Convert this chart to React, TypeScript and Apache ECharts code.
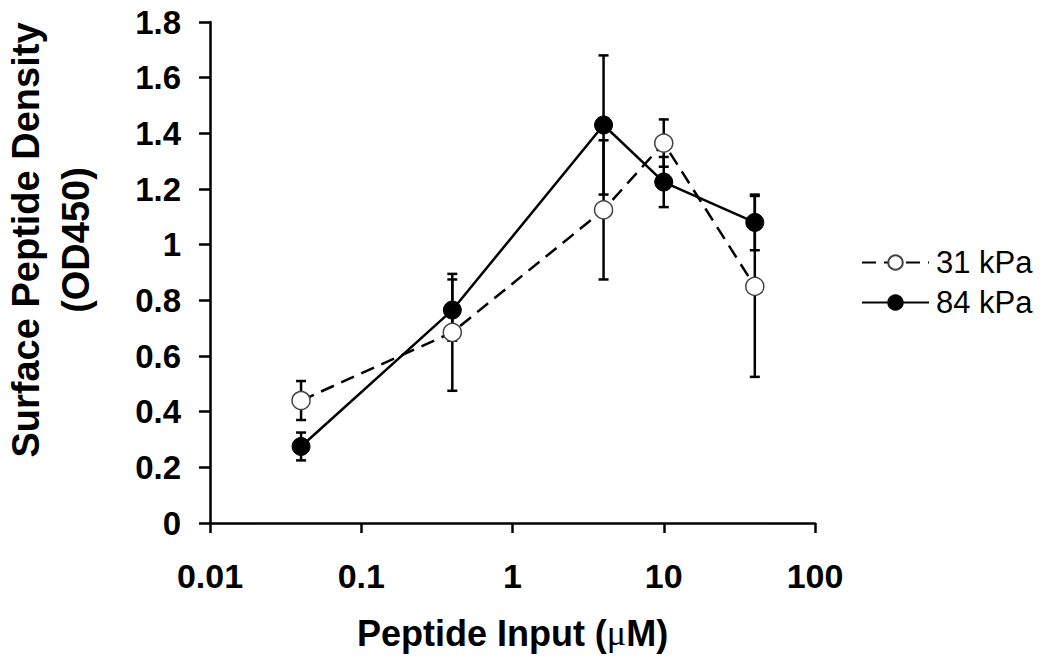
import React, { useEffect, useRef } from "react";
import * as echarts from "echarts";

const peptideInput = [0.04, 0.4, 4, 10, 40];
const density31 = [0.44, 0.685, 1.125, 1.365, 0.85];
const error31 = [0.07, 0.21, 0.25, 0.085, 0.325];
const density84 = [0.275, 0.765, 1.43, 1.225, 1.08];
const error84 = [0.05, 0.11, 0.25, 0.09, 0.1];
const seriesNames = ["31 kPa", "84 kPa"];

const FONT = "'Liberation Sans', Arial, Helvetica, sans-serif";

export default function App() {
  const ref = useRef<HTMLDivElement>(null);

  useEffect(() => {
    if (!ref.current) return;
    const chart = echarts.init(ref.current, null, { renderer: "svg" });

    const errData = (vals: number[], errs: number[]) =>
      peptideInput.map((x, i) => [x, vals[i] - errs[i], vals[i] + errs[i]]);

    const errorSeries = (name: string, vals: number[], errs: number[]) => ({
      type: "custom",
      name: name + " err",
      z: 1,
      silent: true,
      data: errData(vals, errs),
      encode: { x: 0, y: [1, 2] },
      renderItem: (params: any, api: any) => {
        const x = api.value(0);
        const lo = api.coord([x, api.value(1)]);
        const hi = api.coord([x, api.value(2)]);
        const half = 5;
        const style = { stroke: "#000", lineWidth: 2.5 };
        return {
          type: "group",
          children: [
            { type: "line", shape: { x1: lo[0], y1: lo[1], x2: hi[0], y2: hi[1] }, style },
            { type: "line", shape: { x1: lo[0] - half, y1: lo[1], x2: lo[0] + half, y2: lo[1] }, style },
            { type: "line", shape: { x1: hi[0] - half, y1: hi[1], x2: hi[0] + half, y2: hi[1] }, style },
          ],
        };
      },
    });

    chart.setOption({
      animation: false,
      backgroundColor: "#fff",
      grid: { left: 210, right: 235, top: 22, bottom: 143, containLabel: false },
      legend: {
        data: seriesNames,
        orient: "vertical",
        left: 856,
        top: 242,
        itemWidth: 67,
        itemHeight: 18,
        itemGap: 9,
        textStyle: { fontFamily: FONT, fontSize: 31, color: "#000", padding: [0, 0, 0, 2] },
      },
      xAxis: {
        type: "log",
        logBase: 10,
        min: 0.01,
        max: 100,
        name: "{a|Peptide Input (}{m|μ}{a|M)}",
        nameLocation: "middle",
        nameGap: 92,
        nameTextStyle: {
          rich: {
            a: { fontFamily: FONT, fontWeight: "bold", fontSize: 36, color: "#000" },
            m: { fontFamily: "'Liberation Serif', 'DejaVu Serif', serif", fontSize: 36, color: "#000" },
          },
        },
        axisLine: { lineStyle: { color: "#000", width: 2.5 } },
        axisTick: { inside: false, length: 10, lineStyle: { color: "#000", width: 2.5 } },
        minorTick: { show: false },
        splitLine: { show: false },
        axisLabel: {
          fontFamily: FONT,
          fontWeight: "bold",
          fontSize: 34,
          color: "#000",
          margin: 36,
          formatter: (v: number) => String(Number(v.toPrecision(6))),
        },
      },
      yAxis: {
        type: "value",
        min: 0,
        max: 1.8,
        interval: 0.2,
        axisLine: { show: true, lineStyle: { color: "#000", width: 2.5 } },
        axisTick: { show: true, inside: false, length: 11, lineStyle: { color: "#000", width: 2.5 } },
        splitLine: { show: false },
        axisLabel: {
          fontFamily: FONT,
          fontWeight: "bold",
          fontSize: 33,
          color: "#000",
          margin: 29,
          formatter: (v: number) => String(Number(v.toFixed(1))),
        },
      },
      graphic: [
        {
          type: "text",
          x: 51,
          y: 240,
          rotation: Math.PI / 2,
          style: {
            text: "Surface Peptide Density\n(OD450)",
            font: `bold 38px ${FONT}`,
            fill: "#000",
            textAlign: "center",
            textVerticalAlign: "middle",
            lineHeight: 50,
          },
        },
      ],
      series: [
        errorSeries(seriesNames[0], density31, error31),
        errorSeries(seriesNames[1], density84, error84),
        {
          type: "line",
          name: seriesNames[0],
          z: 3,
          data: peptideInput.map((x, i) => [x, density31[i]]),
          symbol: "circle",
          symbolSize: 18,
          showAllSymbol: true,
          lineStyle: { color: "#000", width: 2.5, type: [14, 8] },
          itemStyle: { color: "#fff", borderColor: "#444", borderWidth: 1.5 },
        },
        {
          type: "line",
          name: seriesNames[1],
          z: 4,
          data: peptideInput.map((x, i) => [x, density84[i]]),
          symbol: "circle",
          symbolSize: 18,
          showAllSymbol: true,
          lineStyle: { color: "#000", width: 2.5 },
          itemStyle: { color: "#000", borderColor: "#000", borderWidth: 1 },
        },
      ],
    });

    return () => chart.dispose();
  }, []);

  return <div ref={ref} style={{ width: 1050, height: 666, margin: -8 }} />;
}
